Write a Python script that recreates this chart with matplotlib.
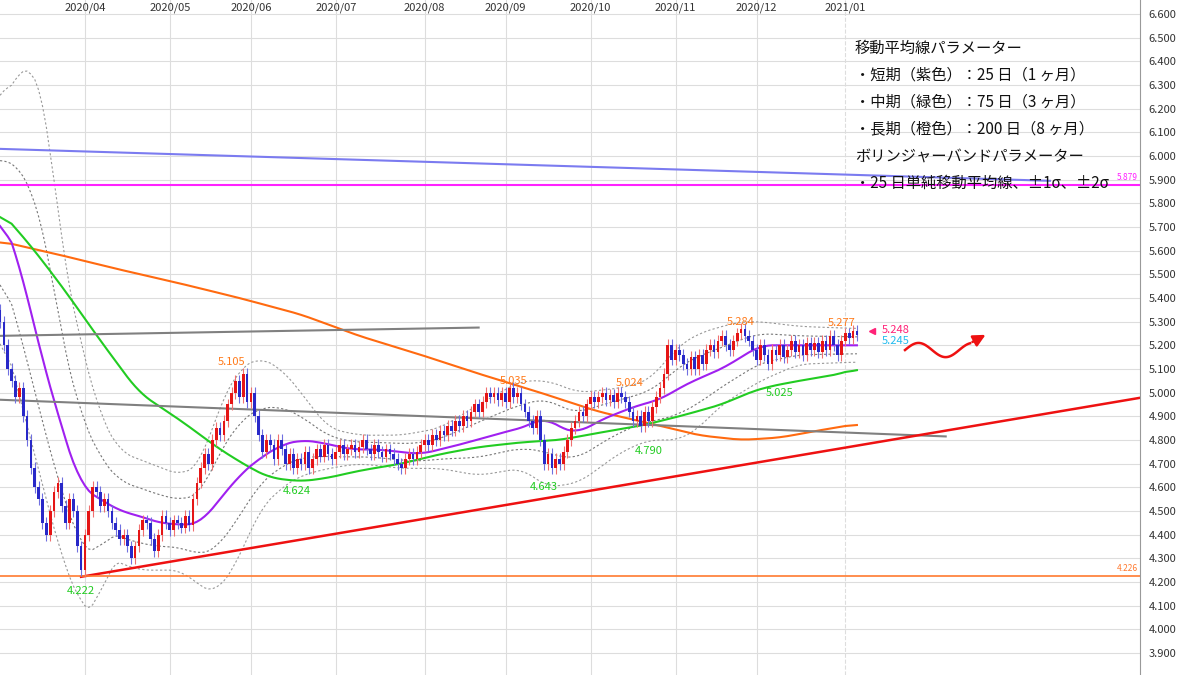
import numpy as np
import pandas as pd
import matplotlib
matplotlib.use("Agg")
import matplotlib.pyplot as plt
import matplotlib.transforms as mtransforms

plt.rcParams['font.family'] = ['Noto Sans CJK JP', 'DejaVu Sans']

# ---- data ----
start_date = "2020-03-02"
first_open = 5.35
closes = [
    5.30, 5.20, 5.10, 5.05, 4.98, 5.02, 4.90, 4.80, 4.68, 4.60,
    4.55, 4.45, 4.40, 4.50, 4.58, 4.62, 4.52, 4.45, 4.55, 4.50,
    4.35, 4.25, 4.40, 4.50, 4.60, 4.58, 4.52, 4.55, 4.50, 4.45,
    4.42, 4.38, 4.40, 4.35, 4.30, 4.35, 4.42, 4.46, 4.45, 4.38,
    4.33, 4.40, 4.48, 4.45, 4.42, 4.46, 4.45, 4.43, 4.48, 4.44,
    4.55, 4.62, 4.68, 4.74, 4.70, 4.80, 4.85, 4.82, 4.88, 4.95,
    5.00, 5.05, 4.98, 5.08, 4.96, 5.00, 4.90, 4.82, 4.75, 4.80,
    4.78, 4.72, 4.80, 4.76, 4.70, 4.74, 4.68, 4.72, 4.70, 4.75,
    4.68, 4.72, 4.76, 4.73, 4.78, 4.74, 4.72, 4.75, 4.78, 4.74,
    4.76, 4.78, 4.75, 4.77, 4.80, 4.76, 4.74, 4.78, 4.75, 4.73,
    4.76, 4.74, 4.72, 4.70, 4.68, 4.72, 4.74, 4.72, 4.75, 4.78,
    4.80, 4.78, 4.82, 4.80, 4.84, 4.82, 4.86, 4.84, 4.88, 4.86,
    4.90, 4.88, 4.92, 4.95, 4.92, 4.96, 5.00, 4.98, 5.00, 4.97,
    5.00, 4.96, 5.02, 4.98, 5.00, 4.95, 4.92, 4.88, 4.85, 4.90,
    4.80, 4.70, 4.74, 4.68, 4.72, 4.70, 4.75, 4.80, 4.85, 4.88,
    4.92, 4.90, 4.95, 4.98, 4.96, 4.98, 5.00, 4.97, 4.99, 4.96,
    5.00, 4.98, 4.96, 4.92, 4.88, 4.90, 4.86, 4.92, 4.88, 4.94,
    4.98, 5.02, 5.08, 5.20, 5.14, 5.18, 5.16, 5.12, 5.10, 5.15,
    5.10, 5.16, 5.12, 5.18, 5.20, 5.17, 5.22, 5.24, 5.20, 5.18,
    5.22, 5.25, 5.27, 5.24, 5.22, 5.18, 5.14, 5.20, 5.16, 5.12,
    5.18, 5.16, 5.20, 5.15, 5.18, 5.22, 5.17, 5.20, 5.16, 5.21,
    5.18, 5.21, 5.17, 5.22, 5.18, 5.24, 5.20, 5.16, 5.22, 5.25,
    5.23, 5.26, 5.245,
]
wick = 0.025

# moving averages / bands, sampled (bar index, price)
ma25_idx = [0, 5, 10, 16, 21, 26, 31, 36, 41, 49, 52, 57, 62, 67, 73, 78, 83, 91, 98, 109, 119,
            130, 137, 141, 145, 150, 155, 161, 166, 171, 176, 181, 187, 192, 197, 202, 212, 223]
ma25 = [5.77, 5.55, 5.20, 4.85, 4.60, 4.55, 4.50, 4.48, 4.45, 4.44, 4.45, 4.55, 4.65, 4.72, 4.78,
        4.80, 4.79, 4.76, 4.76, 4.74, 4.78, 4.83, 4.86, 4.90, 4.85, 4.83, 4.88, 4.92, 4.95, 4.97,
        5.02, 5.06, 5.10, 5.15, 5.20, 5.20, 5.20, 5.20]
ma75_idx = [0, 8, 16, 26, 36, 47, 57, 65, 70, 78, 85, 93, 104, 114, 124, 135, 145, 155, 166, 176,
            187, 194, 199, 207, 218, 223]
ma75 = [5.77, 5.62, 5.45, 5.22, 5.00, 4.88, 4.76, 4.68, 4.64, 4.625, 4.64, 4.67, 4.70, 4.74, 4.77,
        4.79, 4.80, 4.83, 4.86, 4.90, 4.95, 5.00, 5.025, 5.05, 5.08, 5.11]
ma200_idx = [0, 16, 31, 47, 62, 78, 93, 109, 124, 140, 155, 171, 181, 192, 202, 212, 223]
ma200 = [5.64, 5.58, 5.52, 5.46, 5.40, 5.33, 5.24, 5.16, 5.08, 5.00, 4.92, 4.86, 4.82, 4.80, 4.81,
         4.84, 4.87]
bb_up_idx = [0, 4, 9, 12, 16, 21, 26, 31, 39, 47, 52, 57, 62, 67, 73, 78, 85, 93, 104, 114, 124,
             135, 142, 150, 161, 168, 176, 181, 187, 192, 197, 207, 223]
bb_up = [6.20, 6.35, 6.38, 6.20, 5.60, 5.20, 4.90, 4.75, 4.70, 4.65, 4.70, 4.95, 5.10, 5.15, 5.10,
         5.00, 4.85, 4.82, 4.82, 4.85, 4.95, 5.05, 5.05, 5.00, 5.02, 5.05, 5.20, 5.25, 5.28, 5.30,
         5.30, 5.28, 5.27]
bb_dn_idx = [0, 8, 16, 21, 25, 28, 36, 47, 52, 56, 62, 67, 73, 78, 85, 93, 104, 114, 124, 135, 142,
             150, 161, 168, 176, 181, 187, 197, 207, 223]
bb_dn = [5.30, 4.80, 4.30, 4.10, 4.05, 4.30, 4.25, 4.25, 4.18, 4.15, 4.30, 4.50, 4.60, 4.65, 4.68,
         4.70, 4.68, 4.68, 4.65, 4.68, 4.60, 4.62, 4.75, 4.80, 4.80, 4.85, 4.95, 5.05, 5.12, 5.13]

# trend lines: (bar index pairs, price pairs)
blue_line = ([0, 272], [6.03, 5.895])
gray_upper = ([0, 124], [5.24, 5.275])
gray_lower = ([0, 245], [4.97, 4.815])
red_support = ([21, 296], [4.222, 4.98])
magenta_level = 5.879
orange_level = 4.226

# peak / trough labels: (bar index, price, text, colour)
marks = [
    (21, 4.16, "4.222", "#22cc22"), (60, 5.13, "5.105", "#ff7a1a"),
    (77, 4.585, "4.624", "#22cc22"), (133, 5.05, "5.035", "#ff7a1a"),
    (141, 4.60, "4.643", "#22cc22"), (163, 5.04, "5.024", "#ff7a1a"),
    (168, 4.755, "4.790", "#22cc22"), (192, 5.30, "5.284", "#ff7a1a"),
    (202, 5.00, "5.025", "#22cc22"), (218, 5.295, "5.277", "#ff7a1a"),
]

notes = ["移動平均線パラメーター", "・短期（紫色）：25 日（1 ヶ月）", "・中期（緑色）：75 日（3 ヶ月）",
         "・長期（橙色）：200 日（8 ヶ月）", "ボリンジャーバンドパラメーター",
         "・25 日単純移動平均線、±1σ、±2σ"]

# ---- build series ----
dates = pd.bdate_range(start_date, periods=len(closes))
idx = np.arange(len(closes))
closes = np.array(closes)
opens = np.concatenate([[first_open], closes[:-1]])
full = np.arange(len(closes))


def smooth_line(xs, ys):
    s = pd.Series(np.interp(full, xs, ys))
    return s.rolling(7, center=True, min_periods=1).mean().to_numpy()


m25 = smooth_line(ma25_idx, ma25)
m75 = smooth_line(ma75_idx, ma75)
m200 = smooth_line(ma200_idx, ma200)
up2 = smooth_line(bb_up_idx, bb_up)
dn2 = smooth_line(bb_dn_idx, bb_dn)

PX = 3.86
fig = plt.figure(figsize=(12, 6.75), dpi=100)
ax = fig.add_axes([0, 0, 1140 / 1200, 1])
ax.set_xlim(0, 1140 / PX)
ax.set_ylim(3.807, 6.659)

ax.set_yticks(np.round(np.arange(3.9, 6.61, 0.1), 1))
ax.yaxis.tick_right()
ax.yaxis.set_major_formatter(matplotlib.ticker.FormatStrFormatter('%.3f'))
ax.tick_params(axis='y', length=0, labelsize=8, pad=6, colors='#333333')
ax.set_xticks([])
ax.grid(axis='y', color='#dddddd', lw=0.8)
for s in ['top', 'left', 'bottom']:
    ax.spines[s].set_visible(False)
ax.spines['right'].set_color('#999999')

# month grid + labels
month_first = pd.Series(idx, index=dates).groupby(dates.to_period('M')).first()
trans = mtransforms.blended_transform_factory(ax.transData, ax.transAxes)
for per, i in month_first.items():
    if per == month_first.index[0]:
        continue
    ls = '--' if per.month == 1 else '-'
    ax.axvline(i, color='#dddddd', lw=0.8, ls=ls, zorder=0)
    ax.text(i, 0.997, per.strftime('%Y/%m'), transform=trans, ha='center', va='top',
            fontsize=8, color='#333333')

# bands and averages
ax.plot(full, up2, color='#999999', lw=0.8, ls=(0, (2, 2)))
ax.plot(full, dn2, color='#999999', lw=0.8, ls=(0, (2, 2)))
ax.plot(full, (m25 + up2) / 2, color='#777777', lw=0.8, ls=(0, (2, 2)))
ax.plot(full, (m25 + dn2) / 2, color='#777777', lw=0.8, ls=(0, (2, 2)))
ax.plot(full, m200, color='#ff6a10', lw=1.5)
ax.plot(full, m75, color='#22cc22', lw=1.5)
ax.plot(full, m25, color='#a020f0', lw=1.5)

# trend lines
ax.plot(*blue_line, color='#7b7bf0', lw=1.5)
ax.plot(*gray_upper, color='#808080', lw=1.5)
ax.plot(*gray_lower, color='#808080', lw=1.5)
ax.plot(*red_support, color='#ee1111', lw=1.8)
ax.axhline(magenta_level, color='#ff22ff', lw=1.5)
ax.axhline(orange_level, color='#ff7a30', lw=1.2)
ytrans = mtransforms.blended_transform_factory(ax.transAxes, ax.transData)
ax.text(0.998, magenta_level + 0.02, "5.879", transform=ytrans, ha='right', fontsize=6, color='#ff22ff')
ax.text(0.998, orange_level + 0.02, "4.226", transform=ytrans, ha='right', fontsize=6, color='#ff7a30')

# candles
up = closes >= opens
body_lo = np.minimum(opens, closes)
body_h = np.maximum(np.abs(closes - opens), 0.006)
cols = np.where(up, '#e51515', '#2828c8')
wcols = np.where(up, '#f07070', '#7070e0')
ax.vlines(idx, body_lo - wick, body_lo + body_h + wick, colors=wcols, lw=0.8, zorder=3)
ax.bar(idx, body_h, bottom=body_lo, width=0.7, color=cols, zorder=4)

for i, p, t, c in marks:
    ax.text(i, p, t, color=c, fontsize=8, ha='center', va='center')

last = len(closes) - 1
ax.plot(last + 4, 5.26, marker='<', color='#ff2277', ms=5)
ax.text(last + 6.5, 5.265, "5.248", color='#ff2277', fontsize=8, va='center')
ax.text(last + 6.5, 5.22, "5.245", color='#22bbee', fontsize=8, va='center')

# wavy arrow
wx = np.linspace(905, 970, 60) / PX
wy = 5.18 + 0.03 * np.sin((wx - wx[0]) * PX / 65 * 2.4 * np.pi)
ax.plot(wx, wy, color='#ee1111', lw=1.8)
ax.annotate('', xy=(988 / PX, 5.25), xytext=(970 / PX, wy[-1]),
            arrowprops=dict(arrowstyle='-|>', color='#ee1111', lw=1.8, mutation_scale=18))

for k, line in enumerate(notes):
    ax.text(855 / 1140, 1 - (48 + 27 * k) / 675, line, transform=ax.transAxes,
            fontsize=11, va='center', color='#111111')

fig.savefig("out.png", dpi=100)
